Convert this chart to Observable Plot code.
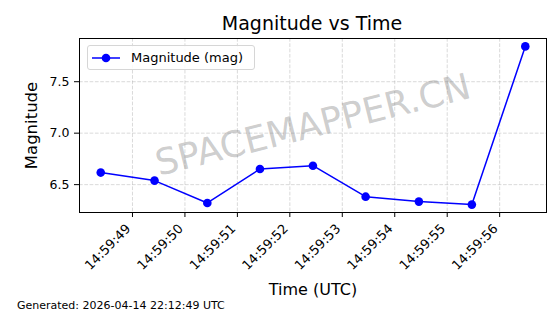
<!DOCTYPE html>
<html>
<head>
<meta charset="utf-8">
<script src="https://cdn.jsdelivr.net/npm/d3@7"></script>
<script src="https://cdn.jsdelivr.net/npm/@observablehq/plot@0.6"></script>
<style>
  html, body { margin: 0; padding: 0; background: #fff; }
  #wrap { position: relative; width: 560px; height: 314px; overflow: hidden; font-family: "DejaVu Sans", sans-serif; }
  #title { position: absolute; left: 0; width: 560px; top: 12px; margin-left: 32px; text-align: center; font-size: 19px; line-height: 22px; color: #000; }
  #legend { position: absolute; left: 87px; top: 45px; width: 168px; height: 25px; box-sizing: border-box;
            border: 1px solid #d6d6d6; border-radius: 3px; background: rgba(255,255,255,0.85);
            display: flex; align-items: center; font-size: 13px; color: #000; }
  #legend svg { margin-left: 3px; margin-right: 10px; }
  #footer { position: absolute; left: 17px; top: 299px; font-size: 11px; line-height: 14px; color: #000; }
  #chart { position: absolute; left: 0; top: 0; }
</style>
</head>
<body>
<div id="wrap">
  <div id="chart"></div>
  <div id="title"></div>
  <div id="legend"></div>
  <div id="footer"></div>
</div>
<script>
// ---- data ----
const times = ["14:59:48.395", "14:59:49.420", "14:59:50.427", "14:59:51.430", "14:59:52.440",
               "14:59:53.445", "14:59:54.460", "14:59:55.470", "14:59:56.489"];
const magnitudes = [6.617, 6.539, 6.322, 6.652, 6.684, 6.383, 6.335, 6.306, 7.843];
const xTickLabels = ["14:59:49", "14:59:50", "14:59:51", "14:59:52", "14:59:53", "14:59:54", "14:59:55", "14:59:56"];
const yTickValues = [6.5, 7.0, 7.5];
const datePrefix = "2026-04-14T";
const titleText = "Magnitude vs Time";
const xLabel = "Time (UTC)";
const yLabel = "Magnitude";
const seriesName = "Magnitude (mag)";
const footerText = "Generated: 2026-04-14 22:12:49 UTC";
const watermark = "SPACEMAPPER.CN";

const parseT = s => new Date(datePrefix + s + "Z");
const data = times.map((t, i) => ({time: parseT(t), mag: magnitudes[i]}));
const xTicks = xTickLabels.map(parseT);

// matplotlib-like 5% margins
const tExt = d3.extent(data, d => +d.time);
const tPad = (tExt[1] - tExt[0]) * 0.05;
const yExt = d3.extent(data, d => d.mag);
const yPad = (yExt[1] - yExt[0]) * 0.05;

const lineColor = "#0000ff";
const gridStyle = {stroke: "#b0b0b0", strokeOpacity: 0.6, strokeDasharray: "3.7,1.6", strokeWidth: 0.8};

const chart = Plot.plot({
  width: 560,
  height: 300,
  marginTop: 38,
  marginBottom: 88,
  marginLeft: 79,
  marginRight: 14,
  style: {fontFamily: "DejaVu Sans, sans-serif", fontSize: "12.5px", color: "#000", background: "transparent"},
  x: {type: "utc", domain: [new Date(tExt[0] - tPad), new Date(tExt[1] + tPad)]},
  y: {domain: [yExt[0] - yPad, yExt[1] + yPad]},
  marks: [
    Plot.gridX(xTicks, gridStyle),
    Plot.gridY(yTickValues, gridStyle),
    Plot.text([watermark], {frameAnchor: "middle", text: d => d, rotate: -14, fontSize: 36, fill: "#808080", fillOpacity: 0.4}),
    Plot.line(data, {x: "time", y: "mag", stroke: lineColor, strokeWidth: 1.5}),
    Plot.dot(data, {x: "time", y: "mag", r: 4.3, fill: lineColor, stroke: "none"}),
    Plot.axisX(xTicks, {tickSize: 5, tickFormat: () => "", label: null}),
    Plot.text(xTicks, {
      x: d => d, frameAnchor: "bottom", dx: -4, dy: 14, text: d3.utcFormat("%H:%M:%S"),
      rotate: -45, textAnchor: "end", lineAnchor: "middle", fontSize: 13
    }),
    Plot.axisX({ticks: [], tickSize: 0, label: xLabel, labelAnchor: "center", labelOffset: 82, labelArrow: false, fontSize: 16}),
    Plot.axisY(yTickValues, {tickFormat: d3.format(".1f"), tickSize: 5, tickPadding: 5, label: null}),
    Plot.axisY({ticks: [], tickSize: 0, label: yLabel, labelAnchor: "center", labelOffset: 54, labelArrow: false, fontSize: 16.5}),
    Plot.frame({stroke: "#000", strokeWidth: 1})
  ]
});
document.getElementById("chart").appendChild(chart);

document.getElementById("title").textContent = titleText;
document.getElementById("footer").textContent = footerText;
document.getElementById("legend").innerHTML =
  `<svg width="30" height="12"><line x1="1" y1="6" x2="29" y2="6" stroke="${lineColor}" stroke-width="1.5"/>` +
  `<circle cx="15" cy="6" r="4.3" fill="${lineColor}"/></svg><span></span>`;
document.querySelector("#legend span").textContent = seriesName;
</script>
</body>
</html>
